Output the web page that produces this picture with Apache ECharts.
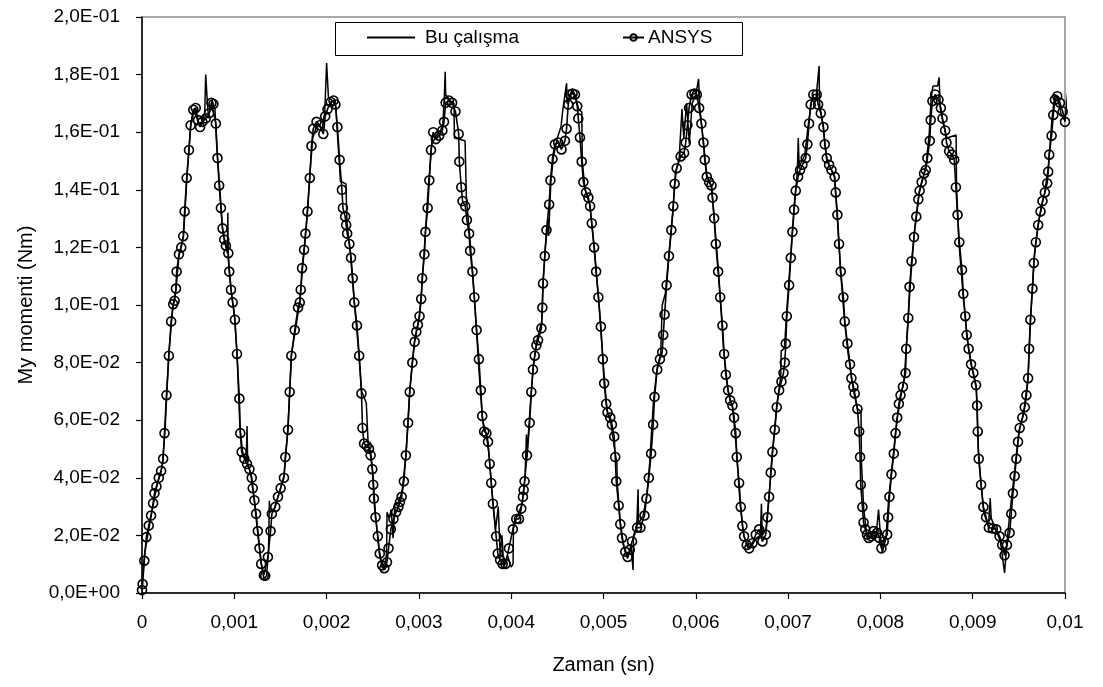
<!DOCTYPE html>
<html>
<head>
<meta charset="utf-8">
<script src="https://cdn.jsdelivr.net/npm/echarts@6/dist/echarts.min.js"></script>
<style>
html,body{margin:0;padding:0;background:#fff;}
#chart{width:1103px;height:687px;}
</style>
</head>
<body>
<div id="chart"></div>
<script>
// Axis tick labels
const xTickLabels = ['0','0,001','0,002','0,003','0,004','0,005','0,006','0,007','0,008','0,009','0,01'];
const yTickLabels = ['0,0E+00','2,0E-02','4,0E-02','6,0E-02','8,0E-02','1,0E-01','1,2E-01','1,4E-01','1,6E-01','1,8E-01','2,0E-01'];
const seriesNames = ['Bu çalışma', 'ANSYS'];

// "Bu çalışma" : [time (s), moment (Nm)]
const studyPoints = [
[0,0.003],[0.00003,0.014],[0.0001,0.027],[0.00016,0.037],[0.00022,0.044],[0.00025,0.057],[0.00029,0.083],[0.00033,0.098],[0.00037,0.106],[0.0004,0.117],
[0.00045,0.124],[0.00049,0.146],[0.00053,0.163],[0.00057,0.168],[0.00061,0.163],[0.00065,0.163],[0.00068,0.167],[0.00069,0.180],[0.000705,0.172],[0.00072,0.165],
[0.00076,0.171],[0.00079,0.168],[0.00081,0.155],[0.00084,0.142],[0.00087,0.127],[0.00091,0.120],[0.000925,0.118],[0.00093,0.132],[0.000935,0.116],[0.00097,0.104],
[0.001,0.097],[0.00103,0.083],[0.00106,0.058],[0.00109,0.049],[0.00113,0.046],[0.001138,0.058],[0.001145,0.045],[0.00118,0.041],[0.00121,0.034],[0.00125,0.022],
[0.00129,0.011],[0.00132,0.005],[0.00135,0.006],[0.00137,0.014],[0.00138,0.032],[0.001385,0.028],[0.00143,0.029],[0.00148,0.034],[0.00154,0.041],[0.00158,0.057],
[0.00162,0.083],[0.00167,0.093],[0.00171,0.101],[0.00174,0.113],[0.00178,0.127],[0.00182,0.146],[0.00185,0.158],[0.0019,0.163],[0.00195,0.161],[0.00198,0.167],
[0.002,0.184],[0.00202,0.172],[0.00206,0.171],[0.0021,0.169],[0.00212,0.158],[0.00215,0.143],[0.00221,0.142],[0.00222,0.129],[0.00226,0.117],[0.0023,0.101],
[0.00235,0.083],[0.00238,0.070],[0.00243,0.066],[0.00245,0.052],[0.00248,0.048],[0.0025,0.042],[0.00253,0.027],[0.00257,0.014],[0.0026,0.009],[0.00263,0.008],
[0.00265,0.014],[0.002655,0.028],[0.00268,0.026],[0.0027,0.029],[0.00272,0.019],[0.00274,0.031],[0.00278,0.031],[0.00282,0.036],[0.00286,0.048],[0.0029,0.070],
[0.00295,0.087],[0.003,0.095],[0.00303,0.105],[0.00307,0.125],[0.0031,0.140],[0.00314,0.156],[0.00318,0.158],[0.00322,0.159],[0.00326,0.163],[0.003275,0.172],
[0.003285,0.181],[0.00329,0.173],[0.00334,0.171],[0.00338,0.170],[0.003385,0.158],[0.0035,0.157],[0.003515,0.137],[0.00355,0.124],[0.00358,0.112],[0.00362,0.093],
[0.00366,0.073],[0.00369,0.060],[0.00373,0.055],[0.00376,0.048],[0.00379,0.036],[0.00383,0.022],[0.00386,0.030],[0.00388,0.013],[0.0039,0.020],[0.00392,0.009],
[0.00396,0.013],[0.004,0.009],[0.00402,0.010],[0.004025,0.024],[0.00407,0.027],[0.00412,0.031],[0.00415,0.040],[0.004165,0.055],[0.00417,0.047],[0.0042,0.062],
[0.00424,0.079],[0.00428,0.088],[0.00433,0.094],[0.004345,0.108],[0.00437,0.120],[0.0044,0.130],[0.004405,0.124],[0.00443,0.143],[0.00446,0.152],[0.0045,0.158],
[0.00454,0.162],[0.00456,0.168],[0.0046,0.177],[0.004605,0.170],[0.00466,0.174],[0.0047,0.172],[0.00473,0.168],[0.004765,0.167],[0.00477,0.150],[0.0048,0.140],
[0.00485,0.135],[0.0049,0.120],[0.00495,0.101],[0.005,0.078],[0.00504,0.063],[0.00508,0.059],[0.00512,0.050],[0.005145,0.045],[0.00515,0.038],[0.00518,0.025],
[0.00522,0.016],[0.00526,0.012],[0.0053,0.016],[0.00532,0.008],[0.005325,0.020],[0.00536,0.023],[0.005375,0.036],[0.00538,0.024],[0.00543,0.027],[0.00547,0.034],
[0.0055,0.045],[0.00554,0.066],[0.00558,0.078],[0.00562,0.083],[0.005636,0.100],[0.00567,0.104],[0.00571,0.118],[0.00575,0.132],[0.00578,0.146],[0.00582,0.151],
[0.00585,0.168],[0.00587,0.158],[0.0059,0.170],[0.00593,0.156],[0.00596,0.170],[0.006,0.173],[0.00603,0.1785],[0.006045,0.168],[0.00608,0.157],[0.00612,0.145],
[0.00617,0.141],[0.0062,0.130],[0.00625,0.110],[0.0063,0.085],[0.00635,0.070],[0.0064,0.064],[0.00644,0.050],[0.00648,0.031],[0.00652,0.020],[0.00656,0.016],
[0.0066,0.016],[0.00665,0.019],[0.0067,0.020],[0.006711,0.031],[0.00672,0.020],[0.00676,0.022],[0.0068,0.036],[0.00684,0.052],[0.00688,0.066],[0.00692,0.075],
[0.006925,0.084],[0.00696,0.085],[0.00699,0.100],[0.00703,0.118],[0.00707,0.136],[0.0071,0.146],[0.00711,0.158],[0.00712,0.148],[0.00718,0.152],[0.00722,0.163],
[0.00726,0.172],[0.0073,0.171],[0.007336,0.183],[0.00734,0.170],[0.00738,0.162],[0.00742,0.150],[0.0075,0.145],[0.00753,0.132],[0.00757,0.111],[0.00761,0.095],
[0.00765,0.083],[0.00771,0.070],[0.00775,0.064],[0.00779,0.063],[0.007795,0.045],[0.00782,0.029],[0.00785,0.021],[0.0079,0.019],[0.00795,0.019],[0.00798,0.029],
[0.008,0.020],[0.00802,0.014],[0.00806,0.019],[0.00809,0.033],[0.00813,0.045],[0.00818,0.060],[0.00822,0.068],[0.00826,0.075],[0.00829,0.090],[0.00833,0.110],
[0.00837,0.126],[0.00842,0.139],[0.00847,0.145],[0.0085,0.150],[0.00853,0.160],[0.00855,0.172],[0.00857,0.176],[0.00862,0.176],[0.008636,0.179],[0.00865,0.168],
[0.00868,0.163],[0.00872,0.158],[0.00882,0.159],[0.008825,0.141],[0.00885,0.122],[0.0089,0.102],[0.00895,0.086],[0.009,0.077],[0.00904,0.071],[0.00906,0.050],
[0.00909,0.038],[0.00912,0.028],[0.00917,0.023],[0.00919,0.033],[0.0092,0.026],[0.00925,0.022],[0.0093,0.018],[0.009345,0.007],[0.00937,0.017],[0.0094,0.027],
[0.00945,0.041],[0.0095,0.056],[0.00955,0.062],[0.0096,0.075],[0.00963,0.097],[0.00967,0.118],[0.00972,0.130],[0.00978,0.139],[0.00982,0.148],[0.00986,0.165],
[0.00989,0.173],[0.00992,0.172],[0.00996,0.166],[0.01,0.164],[0.01003,0.174],[0.01007,0.174],[0.01008,0.155]
];

// "ANSYS" : [time (s), moment (Nm)]
const ansysPoints = [
[0,0.001],[0.000007,0.0031],[0.000025,0.0112],[0.000047,0.0194],[0.000073,0.0234],[0.000098,0.0269],[0.00012,0.0312],[0.000135,0.0346],[0.000156,0.037],[0.000182,0.040],
[0.000207,0.0424],[0.000229,0.0466],[0.000244,0.0555],[0.000265,0.0687],[0.000291,0.0824],[0.000316,0.0943],[0.000338,0.1003],[0.000353,0.1015],[0.000368,0.1057],[0.000375,0.1116],
[0.0004,0.1176],[0.000425,0.120],[0.000447,0.1239],[0.000462,0.1325],[0.000484,0.1441],[0.000509,0.1538],[0.000527,0.1624],[0.000556,0.1678],[0.000582,0.1684],[0.000607,0.1642],
[0.000629,0.1618],[0.000654,0.1636],[0.000691,0.1648],[0.000727,0.1666],[0.000753,0.1702],[0.000774,0.1698],[0.0008,0.163],[0.000818,0.151],[0.000836,0.1415],[0.000855,0.1337],
[0.000873,0.1266],[0.000891,0.1227],[0.000909,0.1206],[0.000935,0.118],[0.000945,0.1116],[0.000964,0.1053],[0.000982,0.1009],[0.001007,0.0949],[0.001029,0.083],[0.001055,0.0675],
[0.001065,0.0555],[0.00108,0.049],[0.001109,0.0466],[0.001138,0.0448],[0.001164,0.043],[0.001189,0.040],[0.0012,0.0364],[0.001218,0.0322],[0.001236,0.0275],[0.001255,0.0215],
[0.001273,0.0155],[0.001291,0.0101],[0.00132,0.0062],[0.001335,0.006],[0.001364,0.0125],[0.001393,0.0215],[0.001407,0.0275],[0.001444,0.0299],[0.001473,0.0334],[0.001502,0.0364],
[0.001538,0.040],[0.001553,0.0472],[0.001582,0.0567],[0.0016,0.0698],[0.001618,0.0824],[0.001655,0.0913],[0.001691,0.0991],[0.001709,0.1009],[0.00172,0.1053],[0.001734,0.1128],
[0.001756,0.1192],[0.001771,0.1248],[0.001793,0.1325],[0.001818,0.1441],[0.001836,0.1552],[0.001855,0.1612],[0.001891,0.1636],[0.001927,0.1624],[0.001964,0.1594],[0.001985,0.1655],
[0.00201,0.168],[0.002045,0.1705],[0.002075,0.171],[0.002095,0.1696],[0.002117,0.1618],[0.002141,0.1504],[0.002166,0.140],[0.002177,0.1337],[0.002201,0.1307],[0.002212,0.1278],
[0.002223,0.1248],[0.002247,0.1212],[0.002265,0.1164],[0.002283,0.1093],[0.0023,0.1009],[0.002329,0.0929],[0.002353,0.0824],[0.002378,0.0693],[0.002389,0.0573],[0.002406,0.0519],
[0.002435,0.0511],[0.002459,0.0501],[0.002477,0.0478],[0.002495,0.043],[0.002505,0.0376],[0.002512,0.0328],[0.00253,0.0263],[0.002555,0.0197],[0.002576,0.0137],[0.002601,0.0096],
[0.002625,0.0086],[0.002654,0.0107],[0.002671,0.0155],[0.002696,0.0221],[0.002724,0.0257],[0.002753,0.0281],[0.002777,0.0299],[0.002795,0.0316],[0.002813,0.0334],[0.002837,0.0388],
[0.002859,0.0478],[0.002883,0.0591],[0.002901,0.0698],[0.002929,0.080],[0.002954,0.0872],[0.002972,0.0907],[0.002989,0.0931],[0.003007,0.0961],[0.003025,0.1021],[0.003035,0.1093],
[0.00306,0.1176],[0.003071,0.1254],[0.003095,0.1337],[0.003113,0.1433],[0.003131,0.1538],[0.003155,0.160],[0.003184,0.1576],[0.003219,0.1588],[0.003254,0.1606],[0.003272,0.1636],
[0.00329,0.1702],[0.003325,0.171],[0.00336,0.1702],[0.003396,0.1672],[0.003431,0.1594],[0.003438,0.1498],[0.003459,0.1409],[0.003473,0.1361],[0.003502,0.1343],[0.00352,0.1295],
[0.003544,0.1248],[0.003555,0.1188],[0.00358,0.1116],[0.003601,0.1027],[0.003625,0.0913],[0.00365,0.0812],[0.003671,0.0704],[0.003686,0.0615],[0.003707,0.0561],[0.003731,0.0555],
[0.003749,0.0525],[0.003767,0.0448],[0.003784,0.0382],[0.003802,0.031],[0.003837,0.0197],[0.003855,0.0137],[0.00388,0.0115],[0.003908,0.0101],[0.003938,0.0101],[0.003975,0.0155],
[0.004018,0.0221],[0.004055,0.0257],[0.004084,0.0257],[0.004109,0.0293],[0.004127,0.0334],[0.004135,0.0358],[0.004145,0.0388],[0.004171,0.0478],[0.0042,0.0591],[0.004218,0.0698],
[0.004236,0.0776],[0.004255,0.0824],[0.004273,0.086],[0.004291,0.0878],[0.004327,0.0919],[0.004338,0.0991],[0.004345,0.1075],[0.004364,0.117],[0.004382,0.126],[0.004411,0.1349],
[0.004425,0.1433],[0.004447,0.1507],[0.004473,0.1558],[0.004509,0.1564],[0.004545,0.154],[0.004582,0.157],[0.0046,0.1612],[0.004618,0.1696],[0.004636,0.1731],[0.004665,0.1734],
[0.004691,0.1731],[0.004716,0.169],[0.004727,0.1648],[0.004745,0.1582],[0.004764,0.1498],[0.004782,0.1427],[0.004811,0.1391],[0.004836,0.1373],[0.004855,0.1343],[0.004873,0.1284],
[0.004898,0.120],[0.00492,0.1116],[0.004945,0.1027],[0.004971,0.0925],[0.004993,0.0812],[0.005007,0.0728],[0.005029,0.0657],[0.005044,0.0627],[0.005073,0.0609],[0.005091,0.0585],
[0.005116,0.0543],[0.005127,0.0472],[0.005138,0.0388],[0.005164,0.0304],[0.005182,0.0239],[0.0052,0.0191],[0.005236,0.0143],[0.005262,0.0125],[0.005285,0.015],[0.005309,0.0179],
[0.005364,0.0227],[0.0054,0.0227],[0.005444,0.0269],[0.005465,0.0328],[0.005491,0.040],[0.005516,0.0484],[0.005538,0.0585],[0.005553,0.0681],[0.005582,0.0776],[0.005611,0.0812],
[0.005636,0.0836],[0.005647,0.0896],[0.005662,0.0967],[0.005684,0.1069],[0.005709,0.117],[0.005735,0.126],[0.005756,0.1343],[0.005771,0.1421],[0.005793,0.1475],[0.005836,0.1516],
[0.005873,0.1528],[0.005891,0.1564],[0.005909,0.1624],[0.005927,0.1684],[0.005955,0.1731],[0.005985,0.1734],[0.006011,0.1731],[0.006036,0.1684],[0.006061,0.163],[0.006083,0.1564],
[0.006097,0.1504],[0.006119,0.1445],[0.006144,0.1427],[0.00617,0.1415],[0.006181,0.1373],[0.006199,0.1301],[0.006217,0.1212],[0.006242,0.1116],[0.006264,0.1027],[0.006289,0.0929],
[0.006307,0.083],[0.006325,0.0758],[0.00635,0.0704],[0.006372,0.0669],[0.006397,0.0651],[0.006415,0.0609],[0.006433,0.0555],[0.006444,0.0472],[0.006469,0.0382],[0.006487,0.0299],
[0.006505,0.0233],[0.006523,0.0197],[0.006552,0.0167],[0.006578,0.0155],[0.006614,0.0173],[0.00665,0.0203],[0.006686,0.0221],[0.006722,0.0179],[0.006758,0.0203],[0.006776,0.0263],
[0.006794,0.0334],[0.006812,0.0418],[0.00683,0.049],[0.006856,0.0567],[0.006877,0.0645],[0.006903,0.0704],[0.006928,0.0734],[0.00695,0.0764],[0.006964,0.080],[0.006975,0.0866],
[0.006986,0.0961],[0.007011,0.1069],[0.007029,0.1164],[0.007047,0.1254],[0.007065,0.1331],[0.007083,0.1397],[0.007108,0.1445],[0.00713,0.1469],[0.007155,0.1487],[0.007191,0.151],
[0.007209,0.1558],[0.007227,0.163],[0.007245,0.1696],[0.007274,0.1731],[0.00731,0.1731],[0.007325,0.1696],[0.007354,0.1666],[0.007383,0.1618],[0.007397,0.1558],[0.007419,0.151],
[0.007444,0.1487],[0.00747,0.1469],[0.007505,0.1445],[0.007516,0.1391],[0.007534,0.1313],[0.007552,0.1212],[0.00757,0.1116],[0.007599,0.1027],[0.007614,0.0943],[0.007643,0.0866],
[0.007671,0.0794],[0.007686,0.0746],[0.007708,0.0716],[0.007722,0.0693],[0.007751,0.0639],[0.00777,0.0561],[0.00778,0.0472],[0.007787,0.0376],[0.007805,0.0299],[0.007818,0.0245],
[0.007836,0.0221],[0.007855,0.0203],[0.007873,0.0191],[0.007902,0.0197],[0.007927,0.0215],[0.007964,0.0209],[0.007989,0.0191],[0.008011,0.0155],[0.008036,0.0179],[0.008073,0.0203],
[0.008084,0.0263],[0.008098,0.0334],[0.00812,0.0412],[0.008145,0.0484],[0.008164,0.0555],[0.008182,0.0609],[0.0082,0.0657],[0.008218,0.0687],[0.008244,0.0716],[0.008273,0.0764],
[0.00828,0.0848],[0.008302,0.0955],[0.008316,0.1063],[0.008338,0.1152],[0.008364,0.1236],[0.008389,0.1307],[0.008411,0.1367],[0.008425,0.1397],[0.008447,0.1427],[0.008473,0.1457],
[0.008491,0.1469],[0.008509,0.151],[0.008535,0.157],[0.008545,0.1642],[0.008564,0.1708],[0.008593,0.1731],[0.008629,0.1713],[0.008655,0.1684],[0.008673,0.1648],[0.008702,0.1606],
[0.008716,0.1564],[0.008745,0.1534],[0.008775,0.1522],[0.0088,0.1504],[0.008818,0.1409],[0.008836,0.1313],[0.008855,0.1218],[0.008884,0.1122],[0.008898,0.1039],[0.00892,0.0961],
[0.008935,0.0896],[0.008956,0.0848],[0.008982,0.0794],[0.009007,0.0764],[0.009036,0.0722],[0.009048,0.0651],[0.009055,0.0561],[0.009065,0.0466],[0.009091,0.0376],[0.009116,0.0299],
[0.009145,0.0263],[0.009175,0.0227],[0.009218,0.0224],[0.009255,0.0221],[0.009291,0.0197],[0.00932,0.0167],[0.009345,0.0131],[0.009371,0.0167],[0.0094,0.0209],[0.009418,0.0275],
[0.009436,0.0346],[0.009455,0.0406],[0.009473,0.0466],[0.009491,0.0525],[0.009509,0.0573],[0.009538,0.0609],[0.009564,0.0645],[0.009582,0.0687],[0.0096,0.0746],[0.009611,0.0848],
[0.009625,0.0949],[0.009647,0.1057],[0.009662,0.1146],[0.009684,0.1218],[0.009709,0.1278],[0.009735,0.1325],[0.009756,0.1361],[0.009782,0.1391],[0.009807,0.1423],[0.009818,0.1463],
[0.009829,0.1522],[0.009855,0.1588],[0.009873,0.166],[0.009891,0.1713],[0.009916,0.1725],[0.009945,0.1702],[0.009975,0.1672],[0.01,0.1636]
];

const FONT = 'Liberation Sans, Arial, sans-serif';
const chart = echarts.init(document.getElementById('chart'), null, {renderer: 'canvas'});
chart.setOption({
  animation: false,
  backgroundColor: '#fff',
  textStyle: {fontFamily: FONT, color: '#000'},
  grid: {left: 142, right: 38, top: 17, bottom: 94, show: true, borderColor: '#8c8c8c', borderWidth: 1.5, backgroundColor: '#fff'},
  graphic: [{
    type: 'rect', left: 335, top: 22, z: 5,
    shape: {width: 407, height: 33},
    style: {fill: '#fff', stroke: '#000', lineWidth: 1}
  }],
  legend: [
    {data: [{name: seriesNames[0], icon: 'rect'}], left: 367, top: 28, padding: 0, itemWidth: 48, itemHeight: 2, itemGap: 0, z: 10,
     itemStyle: {color: '#000', borderWidth: 0},
     textStyle: {fontFamily: FONT, fontSize: 19, color: '#000', padding: [0, 0, 0, 5]}},
    {data: [seriesNames[1]], left: 622, top: 28, padding: 0, itemWidth: 21, itemHeight: 8, itemGap: 0, z: 10,
     textStyle: {fontFamily: FONT, fontSize: 19, color: '#000', padding: [0, 0, 0, -1]}}
  ],
  xAxis: {
    type: 'value', min: 0, max: 0.01, interval: 0.001,
    name: 'Zaman (sn)', nameLocation: 'middle', nameGap: 62,
    nameTextStyle: {fontFamily: FONT, fontSize: 20, color: '#000'},
    axisLine: {show: true, onZero: false, lineStyle: {color: '#000', width: 1.5}},
    axisTick: {show: true, length: 6, lineStyle: {color: '#000', width: 1.2}},
    splitLine: {show: false},
    axisLabel: {margin: 20, fontFamily: FONT, fontSize: 19, color: '#000',
      formatter: v => xTickLabels[Math.round(v / 0.001)]}
  },
  yAxis: {
    type: 'value', min: 0, max: 0.2, interval: 0.02,
    name: 'My momenti (Nm)', nameLocation: 'middle', nameGap: 106, nameRotate: 90,
    nameTextStyle: {fontFamily: FONT, fontSize: 20, color: '#000'},
    axisLine: {show: true, lineStyle: {color: '#000', width: 1.5}},
    axisTick: {show: true, length: 6, lineStyle: {color: '#000', width: 1.2}},
    splitLine: {show: false},
    axisLabel: {margin: 22, fontFamily: FONT, fontSize: 19, color: '#000',
      formatter: v => yTickLabels[Math.round(v / 0.02)]}
  },
  series: [
    {
      name: seriesNames[0], type: 'line', data: studyPoints, symbol: 'none', clip: false, z: 3,
      lineStyle: {color: '#000', width: 1.5}, itemStyle: {color: '#000'}
    },
    {
      name: seriesNames[1], type: 'line', data: ansysPoints, symbol: 'circle', symbolSize: 9,
      showSymbol: true, showAllSymbol: true, z: 4,
      lineStyle: {color: '#000', width: 1.6},
      itemStyle: {color: 'rgba(255,255,255,0)', borderColor: '#000', borderWidth: 1.6}
    }
  ]
});
</script>
</body>
</html>
